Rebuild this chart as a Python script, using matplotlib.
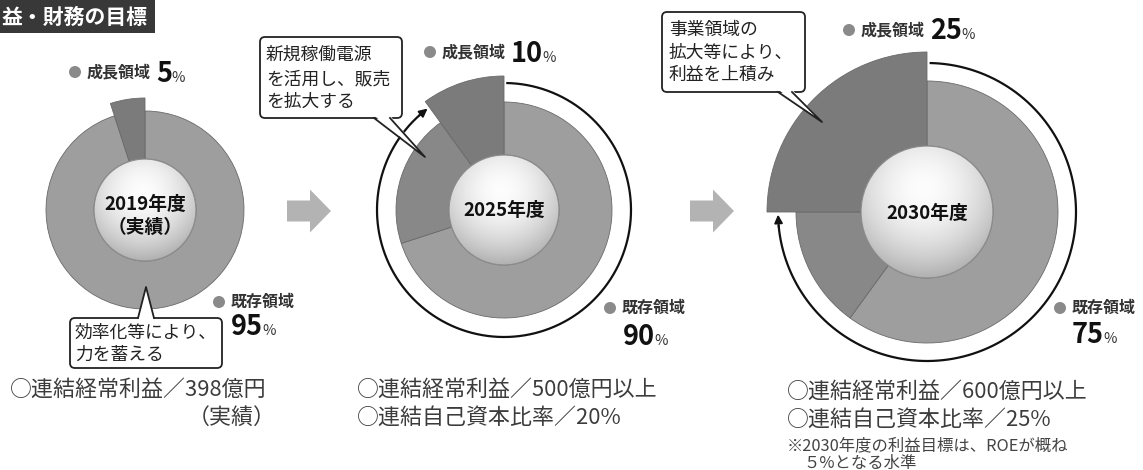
import numpy as np
import matplotlib.pyplot as plt
from matplotlib.patches import Wedge, Circle, Rectangle, FancyBboxPatch, Polygon, FancyArrow

plt.rcParams['font.family'] = ['Noto Sans CJK JP', 'DejaVu Sans']

# ---- データ ----
years = ['2019年度', '2025年度', '2030年度']
year_note = '（実績）'
growth_pct = [5, 10, 25]
existing_pct = [95, 90, 75]
shift_pct = [0, 20, 15]          # 既存領域のうち濃く塗る部分
growth_name = '成長領域'
existing_name = '既存領域'
callouts = [['効率化等により、', '力を蓄える'],
            ['新規稼働電源', 'を活用し、販売', 'を拡大する'],
            ['事業領域の', '拡大等により、', '利益を上積み']]
targets = [['○連結経常利益／398億円'],
           ['○連結経常利益／500億円以上', '○連結自己資本比率／20%'],
           ['○連結経常利益／600億円以上', '○連結自己資本比率／25%']]
footnote = ['※2030年度の利益目標は、ROEが概ね', '５%となる水準']
title = '益・財務の目標'

# ---- レイアウト (px) ----
W, H = 1143, 470
CX = [145, 504, 927]
CY = [210, 210, 212]
R_IN = [51, 55, 66]
R_RING = [99, 108, 131]
R_GROW = [112, 134, 160]
R_LINE = [0, 127, 149]
ARC_END = [0, 131, 185]

C_EXIST = '#9e9e9e'
C_SHIFT = '#888888'
C_GROW = '#7b7b7b'
C_EDGE = '#6a6a6a'

fig = plt.figure(figsize=(W / 100, H / 100), dpi=100)
ax = fig.add_axes([0, 0, 1, 1])
ax.set_xlim(0, W)
ax.set_ylim(H, 0)
ax.axis('off')
renderer = fig.canvas.get_renderer()


def wedge(cx, cy, r, a1, a2, w, fc):
    # y軸が下向きなので角度の符号を反転
    ax.add_patch(Wedge((cx, cy), r, -a2, -a1, width=w, facecolor=fc,
                       edgecolor=C_EDGE, lw=0.6, zorder=2))


def sphere(cx, cy, r):
    n = 240
    yy, xx = np.mgrid[-1:1:n * 1j, -1:1:n * 1j]
    d = np.hypot(xx + 0.05, yy + 0.35)
    v = 0.99 - 0.30 * np.clip(d / 1.35, 0, 1) ** 1.8
    img = ax.imshow(v, cmap='gray', vmin=0, vmax=1, extent=(cx - r, cx + r, cy + r, cy - r),
                    interpolation='bilinear', aspect='auto', zorder=3)
    c = Circle((cx, cy), r, facecolor='none', edgecolor='#8c8c8c', lw=0.9, zorder=4)
    ax.add_patch(c)
    img.set_clip_path(c)


def label(x, y, name, num, nx=None, ny=None):
    ax.add_patch(Circle((x, y), 6, fc='#8a8a8a', ec='none', zorder=5))
    t = ax.text(x + 12, y, name, fontsize=11.5, fontweight='bold', color='#333333',
                va='center', ha='left', zorder=5)
    bb = t.get_window_extent(renderer)
    if nx is None:
        nx = bb.x1 + 5
    tn = ax.text(nx, ny, str(num), fontsize=19.5, fontweight='bold', color='#111111',
                 va='baseline', ha='left', zorder=5)
    bn = tn.get_window_extent(renderer)
    ax.text(bn.x1 - 1, ny, '%', fontsize=10.5, color='#333333', va='baseline', ha='left', zorder=5)


# ---- ドーナツ ----
for i in range(3):
    cx, cy = CX[i], CY[i]
    a1 = 90 + growth_pct[i] * 3.6
    a2 = a1 + shift_pct[i] * 3.6
    wedge(cx, cy, R_RING[i], a2, 450, R_RING[i] - R_IN[i], C_EXIST)
    if shift_pct[i] > 0:
        wedge(cx, cy, R_RING[i], a1, a2, R_RING[i] - R_IN[i], C_SHIFT)
    wedge(cx, cy, R_GROW[i], 90, a1, R_GROW[i] - R_IN[i], C_GROW)
    sphere(cx, cy, R_IN[i])

    if R_LINE[i]:
        t = np.radians(np.linspace(89, ARC_END[i] - 360, 400))
        ax.plot(cx + R_LINE[i] * np.cos(t), cy - R_LINE[i] * np.sin(t), color='#111111',
                lw=1.6, zorder=2, solid_capstyle='butt')
        tb = np.radians(ARC_END[i] - 360 + 1)
        tt = np.radians(ARC_END[i] - 360 - 4)
        ax.annotate('', xy=(cx + R_LINE[i] * np.cos(tt), cy - R_LINE[i] * np.sin(tt)),
                    xytext=(cx + R_LINE[i] * np.cos(tb), cy - R_LINE[i] * np.sin(tb)),
                    arrowprops=dict(arrowstyle='-|>', color='#111111', lw=1.4,
                                    mutation_scale=12, shrinkA=0, shrinkB=0), zorder=3)

# 中央の年度
ykw = dict(fontsize=13.5, fontweight='bold', color='#111111', ha='center', va='center', zorder=5)
ax.text(CX[0], 204, years[0], **ykw)
ax.text(CX[0], 227, year_note, **ykw)
ax.text(CX[1], 210, years[1], **ykw)
ax.text(CX[2], 213, years[2], **ykw)

# ---- ラベル ----
label(75, 72, growth_name, growth_pct[0], ny=82)
label(430, 52, growth_name, growth_pct[1], ny=62)
label(849, 30, growth_name, growth_pct[2], ny=39)
label(219, 302, existing_name, existing_pct[0], nx=231, ny=335)
label(610, 308, existing_name, existing_pct[1], nx=623, ny=345)
label(1060, 308, existing_name, existing_pct[2], nx=1072, ny=343)

# ---- 矢印 ----
for x0 in [287, 690]:
    ax.add_patch(FancyArrow(x0, 211, 44, 0, width=21, head_width=43, head_length=21,
                            length_includes_head=True, fc='#b3b3b3', ec='none', zorder=2))


# ---- 吹き出し ----
def callout(x0, y0, x1, y1, bx1, bx2, by, inward, tip, lines, tx, ty):
    ax.add_patch(FancyBboxPatch((x0, y0), x1 - x0, y1 - y0,
                                boxstyle='round,pad=0,rounding_size=5',
                                fc='white', ec='#222222', lw=1.3, zorder=6))
    ax.add_patch(Polygon([(bx1, by + inward), tip, (bx2, by + inward)], closed=True,
                         fc='white', ec='none', zorder=7))
    ax.plot([bx1, tip[0], bx2], [by, tip[1], by], color='#222222', lw=1.3, zorder=8)
    for s, yy in zip(lines, ty):
        ax.text(tx, yy, s, fontsize=12.8, color='#222222', ha='left', va='center', zorder=9)


callout(70, 318, 222, 368, 138, 154, 318, 2.5, (146, 287), callouts[0], 75, [333, 355])
callout(260, 37, 402, 118, 374, 390, 118, -2.5, (425, 157), callouts[1], 266, [55, 79, 102])
callout(662, 12, 805, 92, 778, 792, 92, -2.5, (822, 122), callouts[2], 669, [30, 53, 75])

# ---- 目標値 ----
tkw = dict(fontsize=15.8, color='#3c3c3c', ha='left', va='center')
ax.text(10, 390, targets[0][0], **tkw)
ax.text(276, 418, year_note, fontsize=15.8, color='#3c3c3c', ha='right', va='center')
ax.text(357, 390, targets[1][0], **tkw)
ax.text(357, 418, targets[1][1], **tkw)
ax.text(787, 392, targets[2][0], **tkw)
ax.text(787, 420, targets[2][1], **tkw)
ax.text(787, 446, footnote[0], fontsize=11.8, color='#444444', ha='left', va='center')
ax.text(803, 463, footnote[1], fontsize=11.8, color='#444444', ha='left', va='center')

# ---- タイトル ----
ax.add_patch(Rectangle((0, 0), 155, 33, fc='#383838', ec='none', zorder=5))
ax.text(2, 17, title, fontsize=15, fontweight='bold', color='white', ha='left',
        va='center', zorder=6)

fig.savefig('out.png', dpi=100, facecolor='white')
